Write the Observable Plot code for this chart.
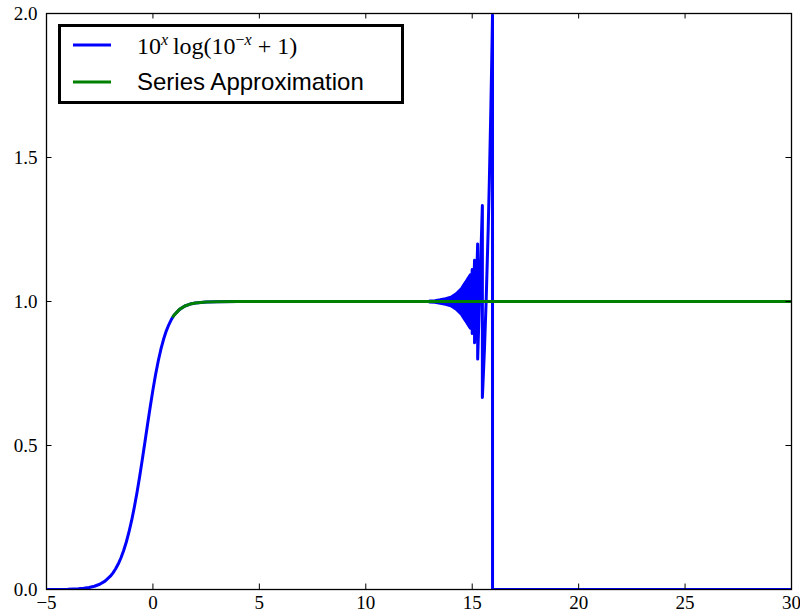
<!DOCTYPE html>
<html>
<head>
<meta charset="utf-8">
<script src="https://cdn.jsdelivr.net/npm/d3@7"></script>
<script src="https://cdn.jsdelivr.net/npm/@observablehq/plot@0.6"></script>
<style>
  html, body { margin: 0; padding: 0; background: white; }
  #chart { width: 800px; height: 616px; }
</style>
</head>
<body>
<div id="chart"></div>
<script>
// ---- data ----
const xTicks = [-5, 0, 5, 10, 15, 20, 25, 30];
const yTicks = [0, 0.5, 1, 1.5, 2];
const seriesNames = ["10^x log(10^-x + 1)", "Series Approximation"];
const seriesColors = ["#0000ff", "#008000"];

// blue curve: 10^x log(10^-x + 1)
const blueX = [-5, -4.5, -4, -3.5, -3.25, -3, -2.75, -2.5, -2.25, -2, -1.875, -1.75, -1.625, -1.5, -1.375, -1.25, -1.125, -1,
  -0.875, -0.75, -0.625, -0.5, -0.375, -0.25, -0.125, 0, 0.125, 0.25, 0.375, 0.5, 0.625, 0.75, 0.875, 1, 1.25, 1.5, 1.75, 2,
  2.5, 3, 4, 5, 13, 14.9, 14.913,
  14.913, 15.000, 15.000, 15.110, 15.110, 15.256, 15.256, 15.4775, 15.4775, 15.574, 15.654, 15.750, 15.808, 15.875, 15.913,
  15.946, 15.953, 15.955, 30];
const blueY = [0.0001, 0.0003, 0.0009, 0.0026, 0.0042, 0.0069, 0.0113, 0.0182, 0.0292, 0.0462, 0.0578, 0.0720, 0.0893, 0.1102, 0.1352, 0.1649, 0.1997, 0.2398,
  0.2855, 0.3362, 0.3917, 0.4510, 0.5124, 0.5745, 0.6355, 0.6931, 0.7462, 0.7934, 0.8343, 0.8688, 0.8973, 0.9200, 0.9390, 0.9531, 0.9727, 0.9845, 0.9911, 0.9950,
  0.9984, 0.9995, 0.99995, 1.0, 1.0, 1.0, 1.091,
  0.909, 1.111, 0.889, 1.143, 0.857, 1.200, 0.800, 1.333, 0.667, 0.833, 1.000, 1.250, 1.429, 1.667, 1.818,
  1.960, 1.995, 0, 0];

// dense oscillation band (upper / lower envelope)
const bandX  = [13.0, 13.25, 13.5, 13.75, 14.0, 14.25, 14.5, 14.6, 14.7, 14.8, 14.913];
const bandHi = [1.002, 1.003, 1.006, 1.010, 1.015, 1.027, 1.045, 1.057, 1.068, 1.080, 1.093];
const bandLo = [0.998, 0.997, 0.994, 0.990, 0.985, 0.973, 0.955, 0.943, 0.932, 0.920, 0.907];

// green curve: series approximation
const greenX = [0.95, 1, 1.25, 1.5, 1.75, 2, 2.5, 3, 4, 5, 30];
const greenY = [0.9485, 0.9531, 0.9727, 0.9845, 0.9911, 0.9950, 0.9984, 0.9995, 0.99995, 1.0, 1.0];

// ---- build tables ----
const blue = blueX.map((x, i) => ({x, y: blueY[i]}));
const band = bandX.map((x, i) => ({x, hi: bandHi[i], lo: bandLo[i]}));
const green = greenX.map((x, i) => ({x, y: greenY[i]}));

const serif = "'Liberation Serif', 'DejaVu Serif', serif";
const sans = "'Liberation Sans', Arial, sans-serif";
const LW = 3;
const fmtX = d => d < 0 ? "\u2212" + (-d) : String(d);
const fmtY = d => d.toFixed(1);

const tickLenY = 0.019;   // ~5.5px in y units
const tickLenX = 0.26;    // ~5.5px in x units

const chart = Plot.plot({
  width: 800,
  height: 616,
  marginLeft: 46,
  marginRight: 9,
  marginTop: 13,
  marginBottom: 27,
  style: {fontFamily: serif, fontSize: "19px", color: "black", background: "white"},
  x: {domain: [-5, 30]},
  y: {domain: [0, 2]},
  marks: [
    Plot.line(blue, {x: "x", y: "y", stroke: seriesColors[0], strokeWidth: LW, clip: true}),
    Plot.areaY(band, {x: "x", y1: "lo", y2: "hi", fill: seriesColors[0], fillOpacity: 1, clip: true}),
    Plot.line(band, {x: "x", y: "hi", stroke: seriesColors[0], strokeWidth: LW, clip: true}),
    Plot.line(band, {x: "x", y: "lo", stroke: seriesColors[0], strokeWidth: LW, clip: true}),
    Plot.line(green, {x: "x", y: "y", stroke: seriesColors[1], strokeWidth: LW, clip: true}),
    // inward ticks on all four sides
    Plot.ruleX(xTicks, {x: d => d, y1: 0, y2: tickLenY, stroke: "black", strokeWidth: 1}),
    Plot.ruleX(xTicks, {x: d => d, y1: 2, y2: 2 - tickLenY, stroke: "black", strokeWidth: 1}),
    Plot.ruleY(yTicks, {y: d => d, x1: -5, x2: -5 + tickLenX, stroke: "black", strokeWidth: 1}),
    Plot.ruleY(yTicks, {y: d => d, x1: 30, x2: 30 - tickLenX, stroke: "black", strokeWidth: 1}),
    Plot.frame({stroke: "black", strokeWidth: 1.3}),
    Plot.axisX({ticks: xTicks, tickSize: 0, tickPadding: 6, tickFormat: fmtX, fontSize: 19, fontFamily: serif, label: null}),
    Plot.axisY({ticks: yTicks, tickSize: 0, tickPadding: 9, tickFormat: fmtY, fontSize: 19, fontFamily: serif, label: null})
  ]
});

document.getElementById("chart").appendChild(chart);

// ---- legend (inside the axes, upper left) ----
const svg = d3.select(chart);
const lg = svg.append("g").attr("text-anchor", "start");
lg.append("rect")
  .attr("x", 59.5).attr("y", 25.5).attr("width", 343).attr("height", 77)
  .attr("fill", "white").attr("stroke", "black").attr("stroke-width", 3);
const rowsY = [45, 82];
rowsY.forEach((yy, i) => {
  lg.append("line").attr("x1", 73).attr("x2", 111).attr("y1", yy).attr("y2", yy)
    .attr("stroke", seriesColors[i]).attr("stroke-width", LW);
});
// math label
const mt = lg.append("text").attr("x", 137).attr("y", 54).attr("text-anchor", "start")
  .attr("font-family", serif).attr("font-size", 24).attr("fill", "black");
mt.append("tspan").text("10");
mt.append("tspan").attr("font-style", "italic").attr("font-size", 16).attr("dy", -9).text("x");
mt.append("tspan").attr("dy", 9).text("\u2009log(10");
mt.append("tspan").attr("font-size", 16).attr("dy", -9).text("\u2212");
mt.append("tspan").attr("font-size", 16).attr("font-style", "italic").text("x");
mt.append("tspan").attr("dy", 9).text(" + 1)");
// plain label
lg.append("text").attr("x", 137).attr("y", 89.5).attr("text-anchor", "start")
  .attr("font-family", sans).attr("font-size", 24).attr("fill", "black")
  .text(seriesNames[1]);
</script>
</body>
</html>
